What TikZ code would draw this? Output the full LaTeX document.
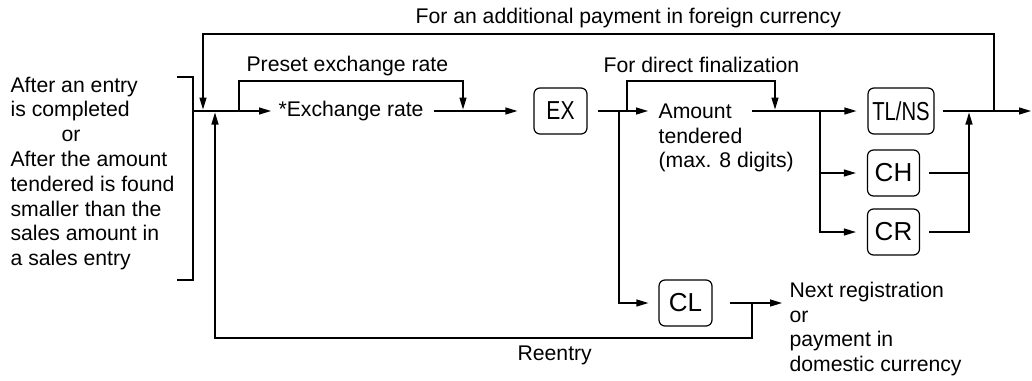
\documentclass[tikz,border=0pt]{standalone}
\usepackage{fontspec}
\setmainfont{Liberation Sans}
\usepackage{graphicx}
\usetikzlibrary{arrows.meta}
\begin{document}
\begin{tikzpicture}[x=1pt,y=-1pt,line width=1.2pt,
  >={Triangle[length=12pt,width=7pt]},
  key/.style={draw,rounded corners=6pt,minimum height=46pt,inner sep=0pt,
    font=\fontsize{26}{30}\selectfont},
  txt/.style={inner sep=0pt,font=\fontsize{21.2}{24.8}\selectfont,align=left}]
\useasboundingbox (0,0) rectangle (1032,380);

% texts
\node[txt,anchor=west] (cond) at (10,173.5) {After an entry\\is completed\\\hspace*{51pt}or\\After the amount\\tendered is found\\smaller than the\\sales amount in\\a sales entry};
\node[txt,anchor=west] (addl) at (415,18) {For an additional payment in foreign currency};
\node[txt,anchor=west] (preset) at (246,66) {Preset exchange rate};
\node[txt,anchor=west] (exch) at (278,111) {*Exchange rate};
\node[txt,anchor=west] (direct) at (603,65) {For direct finalization};
\node[txt,anchor=west] (amt) at (658,138) {Amount\\tendered\\(max. 8 digits)};
\node[txt,anchor=west] (next) at (789,329) {Next registration\\or\\payment in\\domestic currency};
\node[txt,anchor=west] (reentry) at (517,355) {Reentry};

% keys
\node[key,minimum width=53pt] (ex) at (560.5,111) {\scalebox{0.81}[1]{EX}};
\node[key,minimum width=66pt] (tl) at (901,111) {\scalebox{0.78}[1]{TL/NS}};
\node[key,minimum width=52pt] (ch) at (893.5,173) {CH};
\node[key,minimum width=52pt] (cr) at (893.5,232) {CR};
\node[key,minimum width=53pt] (cl) at (685.5,303) {CL};

% junction coordinates
\coordinate (jIn) at (193,111);
\coordinate (jTopIn) at (203,109.5);
\coordinate (jReIn) at (215,112.5);
\coordinate (jPreOut) at (239,111);
\coordinate (jPreIn) at (463,109.5);
\coordinate (jEx) at (619,111);
\coordinate (jDirOut) at (627,111);
\coordinate (jDirIn) at (775,109.5);
\coordinate (jAmtOut) at (752,111);
\coordinate (jSplit) at (820,111);
\coordinate (jMerge) at (969,112.5);
\coordinate (jTop) at (994,111);
\coordinate (jEnd) at (1031,111);
\coordinate (jCl) at (752,303);
\coordinate (rowTop) at (0,34);
\coordinate (rowLoop) at (0,81);
\coordinate (rowRe) at (0,338);

% bracket
\draw (177,77) -- (193,77) -- (193,280) -- (177,280);

% main row
\draw[->] (jIn) -- ([xshift=-7pt]exch.west);
\draw[->] ([xshift=10pt]exch.east) -- ([xshift=-16pt]ex.west);
\draw[->] ([xshift=10pt]ex.east) -- ([xshift=-10pt]amt.west |- ex.east);
\draw[->] (jAmtOut) -- ([xshift=-11pt]tl.west);
\draw[->] ([xshift=8pt]tl.east) -- (jEnd);

% loops above
\draw[->] (jTop) -- (jTop |- rowTop) -- (jTopIn |- rowTop) -- (jTopIn);
\draw[->] (jPreOut) -- (jPreOut |- rowLoop) -- (jPreIn |- rowLoop) -- (jPreIn);
\draw[->] (jDirOut) -- (jDirOut |- rowLoop) -- (jDirIn |- rowLoop) -- (jDirIn);

% branches to CH, CR
\draw[->] (jSplit) |- ([xshift=-11pt]ch.west);
\draw[->] (jSplit) |- ([xshift=-11pt]cr.west);
\draw ([xshift=9pt]ch.east) -- (ch.east -| jMerge);
\draw[->] ([xshift=9pt]cr.east) -| (jMerge);

% CL branch and reentry
\draw[->] (jEx) |- ([xshift=-10pt]cl.west);
\draw[->] ([xshift=17pt]cl.east) -- ([xshift=-7pt]next.west |- cl.east);
\draw[->] (jCl) -- (jCl |- rowRe) -- (jReIn |- rowRe) -- (jReIn);
\end{tikzpicture}
\end{document}
